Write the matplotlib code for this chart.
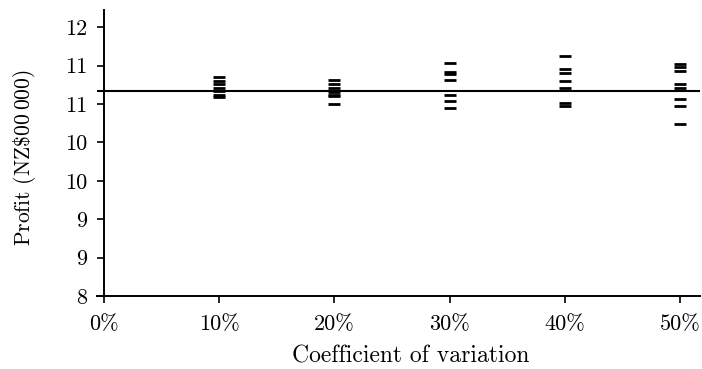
import matplotlib
matplotlib.use("Agg")
import matplotlib.pyplot as plt

plt.rcParams['font.family'] = 'cmr10'
plt.rcParams['mathtext.fontset'] = 'cm'
plt.rcParams['axes.formatter.use_mathtext'] = True

# coefficient of variation levels and simulated profits at each level
cv_levels = [0.10, 0.20, 0.30, 0.40, 0.50]
profit_10 = [10.852, 10.799, 10.760, 10.708, 10.669, 10.617, 10.591]
profit_20 = [10.813, 10.760, 10.708, 10.656, 10.617, 10.604, 10.500]
profit_30 = [11.034, 10.917, 10.891, 10.806, 10.617, 10.533, 10.448]
profit_40 = [11.118, 10.949, 10.904, 10.799, 10.708, 10.513, 10.474]
profit_50 = [11.021, 10.982, 10.923, 10.760, 10.708, 10.565, 10.474, 10.233]
baseline = 10.669

x_ticks = [0.0, 0.1, 0.2, 0.3, 0.4, 0.5]
x_labels = ['0%', '10%', '20%', '30%', '40%', '50%']
y_ticks = [8.0, 8.5, 9.0, 9.5, 10.0, 10.5, 11.0, 11.5]
y_labels = ['8', '9', '9', '10', '10', '11', '11', '12']

fig = plt.figure(figsize=(7.02, 3.69), dpi=100)
ax = fig.add_axes([0.138, 0.198, 0.859, 0.775])

all_profits = [profit_10, profit_20, profit_30, profit_40, profit_50]
for cv, vals in zip(cv_levels, all_profits):
    ax.plot([cv] * len(vals), vals, linestyle='none', marker='_',
            markersize=9, markeredgewidth=2.0, color='black', zorder=3)

ax.axhline(baseline, color='black', linewidth=1.5, zorder=2)

ax.set_xlim(-0.006, 0.517)
ax.set_ylim(8.0, 11.724)
ax.set_xticks(x_ticks)
ax.set_xticklabels(x_labels)
ax.set_yticks(y_ticks)
ax.set_yticklabels(y_labels)

ax.spines['top'].set_visible(False)
ax.spines['right'].set_visible(False)
ax.spines['left'].set_position(('data', 0))
for s in ('left', 'bottom'):
    ax.spines[s].set_linewidth(1.4)
ax.tick_params(direction='out', length=5, width=1.2, labelsize=16, pad=7)
ax.tick_params(axis='x', pad=8.5)

ax.set_xlabel('Coefficient of variation', fontsize=17)
ax.set_ylabel(r'Profit (NZ\$00$\:$000)', fontsize=15.5)
ax.xaxis.set_label_coords(0.521, -0.172)
ax.yaxis.set_label_coords(-0.097, 0.483)

fig.savefig('out.png', dpi=100)
